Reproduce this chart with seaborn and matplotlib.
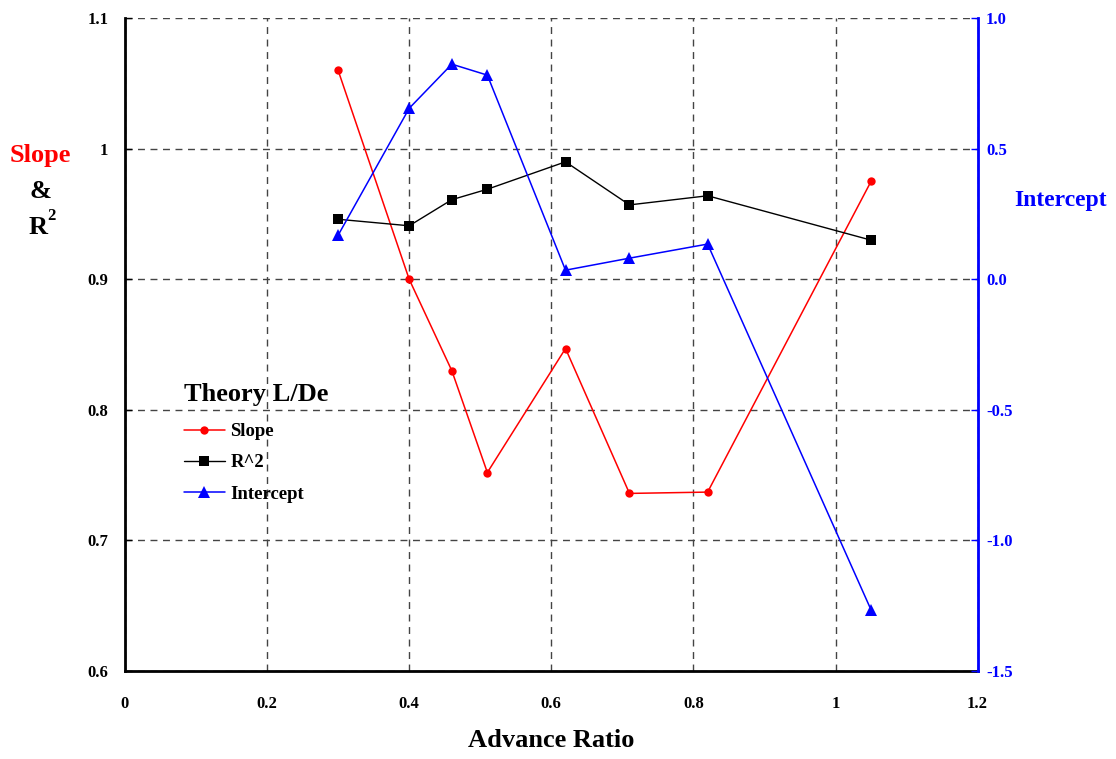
import seaborn as sns
import matplotlib.pyplot as plt
import pandas as pd

# Advance ratio sweep, Theory L/De fit results
advance_ratio = [0.30, 0.40, 0.46, 0.51, 0.62, 0.71, 0.82, 1.05]
slope = [1.060, 0.900, 0.830, 0.752, 0.847, 0.736, 0.737, 0.975]
r_squared = [0.946, 0.941, 0.961, 0.969, 0.990, 0.957, 0.964, 0.930]
intercept = [0.169, 0.655, 0.824, 0.782, 0.035, 0.081, 0.135, -1.266]

x_ticks = [0, 0.2, 0.4, 0.6, 0.8, 1, 1.2]
x_tick_labels = ["0", "0.2", "0.4", "0.6", "0.8", "1", "1.2"]
left_ticks = [0.6, 0.7, 0.8, 0.9, 1.0, 1.1]
left_tick_labels = ["0.6", "0.7", "0.8", "0.9", "1", "1.1"]
right_ticks = [-1.5, -1.0, -0.5, 0.0, 0.5, 1.0]
right_tick_labels = ["-1.5", "-1.0", "-0.5", "0.0", "0.5", "1.0"]

df = pd.DataFrame({"adv": advance_ratio, "slope": slope,
                   "r2": r_squared, "intercept": intercept})

sns.set_style("white")
plt.rcParams['font.family'] = ['Liberation Serif', 'DejaVu Serif']
plt.rcParams['font.weight'] = 'bold'
plt.rcParams['text.color'] = 'black'
plt.rcParams['axes.labelcolor'] = 'black'
plt.rcParams['xtick.color'] = 'black'
plt.rcParams['ytick.color'] = 'black'

fig = plt.figure(figsize=(11.16, 7.59), dpi=100)
ax = fig.add_axes([0.112, 0.116, 0.764, 0.860])
ax2 = ax.twinx()

sns.lineplot(data=df, x="adv", y="slope", ax=ax, color="red", marker="o",
             markersize=6, markeredgewidth=0, linewidth=1.1, label="Slope")
sns.lineplot(data=df, x="adv", y="r2", ax=ax, color="black", marker="s",
             markersize=7, markeredgewidth=0, linewidth=1.0, label="R^2")
sns.lineplot(data=df, x="adv", y="intercept", ax=ax2, color="blue", marker="^",
             markersize=8, markeredgewidth=0, linewidth=1.1, label="Intercept")

ax.set_xlim(0, 1.2)
ax.set_ylim(0.6, 1.1)
ax2.set_ylim(-1.5, 1.0)

ax.set_xticks(x_ticks)
ax.set_xticklabels(x_tick_labels, fontsize=12, fontweight='bold')
ax.set_yticks(left_ticks)
ax.set_yticklabels(left_tick_labels, fontsize=12, fontweight='bold')
ax2.set_yticks(right_ticks)
ax2.set_yticklabels(right_tick_labels, fontsize=12, fontweight='bold', color='blue')

ax.tick_params(axis='y', direction='in', length=5, width=1, pad=12)
ax.tick_params(axis='x', direction='in', length=5, width=1, pad=18)
ax2.tick_params(axis='y', direction='in', length=5, width=1, colors='blue', pad=6)

ax.grid(True, color='#444444', linestyle=(0, (5, 4)), linewidth=1)
ax.set_axisbelow(True)

for a in (ax, ax2):
    a.spines['top'].set_visible(False)
ax.spines['left'].set_linewidth(2)
ax.spines['left'].set_color('black')
ax.spines['bottom'].set_linewidth(2)
ax.spines['bottom'].set_color('black')
ax2.spines['left'].set_visible(False)
ax2.spines['bottom'].set_visible(False)
ax2.spines['right'].set_color('blue')
ax2.spines['right'].set_linewidth(2)

ax.set_xlabel("Advance Ratio", fontsize=19, fontweight='bold', labelpad=12)
ax.set_ylabel("")
ax2.set_ylabel("")

fig.text(0.036, 0.795, "Slope", color='red', fontsize=19, fontweight='bold', ha='center', va='center')
fig.text(0.036, 0.748, "&", color='black', fontsize=19, fontweight='bold', ha='center', va='center')
fig.text(0.034, 0.700, "R", color='black', fontsize=19, fontweight='bold', ha='center', va='center')
fig.text(0.046, 0.716, "2", color='black', fontsize=12, fontweight='bold', ha='center', va='center')
fig.text(0.950, 0.736, "Intercept", color='blue', fontsize=17, fontweight='bold', ha='center', va='center')

h1, l1 = ax.get_legend_handles_labels()
h2, l2 = ax2.get_legend_handles_labels()
if ax2.get_legend() is not None:
    ax2.get_legend().remove()
leg = ax.legend(h1 + h2, l1 + l2, title="Theory L/De", loc='upper left',
                bbox_to_anchor=(0.06, 0.452), frameon=False,
                prop={'size': 13.5, 'weight': 'bold'}, handlelength=2.2,
                handletextpad=0.3, labelspacing=0.75, alignment='left',
                borderaxespad=0)
leg.get_title().set_fontsize(19)
leg.get_title().set_fontweight('bold')
leg._legend_box.sep = 12

plt.savefig("out.png", dpi=100)
